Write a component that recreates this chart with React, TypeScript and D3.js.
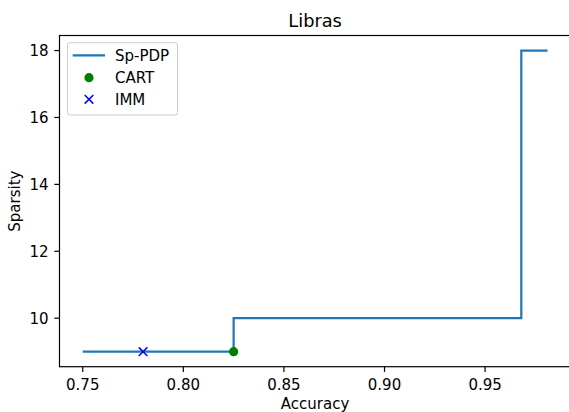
import React from "react";
import * as d3 from "d3";

const stepX = [0.75, 0.825, 0.968, 0.981];
const stepY = [9, 10, 18, 18];
const cartPoint = [0.825, 9];
const immPoint = [0.78, 9];
const xTicks = [0.75, 0.8, 0.85, 0.9, 0.95];
const yTicks = [10, 12, 14, 16, 18];
const legendLabels = ["Sp-PDP", "CART", "IMM"];

const W = 569;
const H = 412;
const L = 59.5;
const R = 570.7;
const T = 35.5;
const B = 366.7;
const FONT = "DejaVu Sans, sans-serif";
const FS = 15;

export default function App() {
  const xMin = d3.min(stepX)!;
  const xMax = d3.max(stepX)!;
  const yMin = d3.min(stepY)!;
  const yMax = d3.max(stepY)!;
  const xm = (xMax - xMin) * 0.05;
  const ym = (yMax - yMin) * 0.05;
  const x = d3.scaleLinear().domain([xMin - xm, xMax + xm]).range([L, R]);
  const y = d3.scaleLinear().domain([yMin - ym, yMax + ym]).range([B, T]);
  const pts: [number, number][] = stepX.map((v, i) => [v, stepY[i]]);
  const line = d3
    .line<[number, number]>()
    .x((d) => x(d[0]))
    .y((d) => y(d[1]))
    .curve(d3.curveStepAfter);
  const cx = x(cartPoint[0]);
  const cy = y(cartPoint[1]);
  const ix = x(immPoint[0]);
  const iy = y(immPoint[1]);
  const xs = 4.3;
  const fmt = d3.format(".2f");
  const lgX = 67.5;
  const lgY = 42.7;
  const rowY = [55.3, 77.7, 99.3];

  return (
    <svg
      width={W}
      height={H}
      style={{ position: "absolute", left: 0, top: 0, display: "block" }}
      fontFamily={FONT}
    >
      <rect x={0} y={0} width={W} height={H} fill="#fff" />
      <text x={(L + R) / 2} y={26.7} textAnchor="middle" fontSize={17.8} fill="#000">
        Libras
      </text>
      <path d={line(pts) || ""} fill="none" stroke="#1f77b4" strokeWidth={2.2} />
      <circle cx={cx} cy={cy} r={4.6} fill="green" />
      <path
        d={`M${ix - xs},${iy - xs}L${ix + xs},${iy + xs}M${ix - xs},${iy + xs}L${ix + xs},${iy - xs}`}
        stroke="blue"
        strokeWidth={1.5}
        fill="none"
      />
      {/* spines */}
      <rect x={L} y={T} width={R - L} height={B - T} fill="none" stroke="#000" strokeWidth={1.2} />
      {/* x ticks */}
      {xTicks.map((t) => (
        <g key={t}>
          <line x1={x(t)} x2={x(t)} y1={B} y2={B + 5.2} stroke="#000" strokeWidth={1.2} />
          <text x={x(t)} y={B + 23.5} textAnchor="middle" fontSize={FS} fill="#000">
            {fmt(t)}
          </text>
        </g>
      ))}
      {yTicks.map((t) => (
        <g key={t}>
          <line x1={L - 5.2} x2={L} y1={y(t)} y2={y(t)} stroke="#000" strokeWidth={1.2} />
          <text x={L - 11} y={y(t) + 5.4} textAnchor="end" fontSize={FS} fill="#000">
            {t}
          </text>
        </g>
      ))}
      <text x={(L + R) / 2} y={409} textAnchor="middle" fontSize={FS} fill="#000">
        Accuracy
      </text>
      <text
        transform={`translate(20,${(T + B) / 2}) rotate(-90)`}
        textAnchor="middle"
        fontSize={FS}
        fill="#000"
      >
        Sparsity
      </text>
      {/* legend */}
      <rect
        x={lgX}
        y={lgY}
        width={110}
        height={72.3}
        rx={2.5}
        fill="#fff"
        fillOpacity={0.8}
        stroke="#ccc"
        strokeWidth={1}
      />
      <line x1={72.7} x2={105} y1={rowY[0]} y2={rowY[0]} stroke="#1f77b4" strokeWidth={2.2} />
      <circle cx={89} cy={rowY[1]} r={4.6} fill="green" />
      <path
        d={`M${89 - xs},${rowY[2] - xs}L${89 + xs},${rowY[2] + xs}M${89 - xs},${rowY[2] + xs}L${89 + xs},${rowY[2] - xs}`}
        stroke="blue"
        strokeWidth={1.5}
        fill="none"
      />
      {legendLabels.map((lab, i) => (
        <text key={lab} x={115} y={rowY[i] + 5.4} fontSize={FS} fill="#000">
          {lab}
        </text>
      ))}
    </svg>
  );
}
